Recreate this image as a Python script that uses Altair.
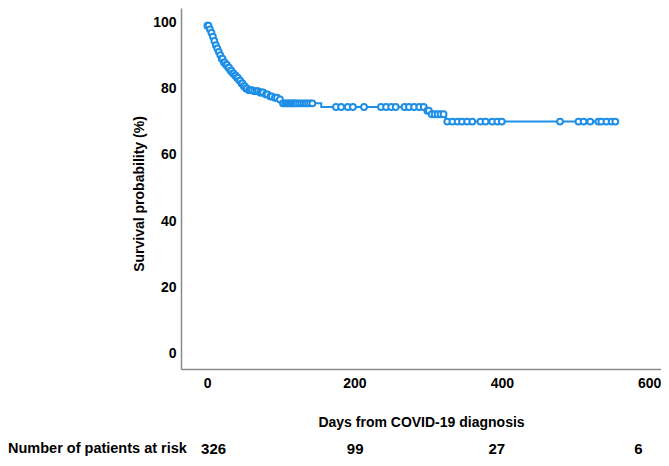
import altair as alt
import pandas as pd

BLUE = "#1e8fe6"
FONT = "Liberation Sans"

# Kaplan-Meier step knots (day, survival %)
step_days = [0, 0.3, 3, 5, 7, 9, 11, 13, 15, 17, 19, 22, 25, 28, 31, 34, 37, 40, 43, 46,
             49, 52, 56, 62, 70, 78, 84, 90, 97, 102, 155, 297, 302, 324, 555]
step_surv = [100, 99.1, 98.0, 97.0, 95.8, 94.5, 93.2, 92.2, 91.2, 90.2, 89.1, 88.0, 87.2, 86.4,
             85.5, 84.7, 84.0, 83.3, 82.5, 81.6, 80.8, 80.1, 79.6, 79.3, 78.9, 78.3, 77.7, 77.3,
             76.8, 75.6, 74.5, 73.4, 72.3, 70.1, 70.1]

# censored observations (days)
censor_days = [0.5, 2, 4, 6, 8, 10, 12, 14, 16, 18, 20, 21, 23, 24, 26, 27, 29, 30, 32, 33,
               35, 36, 38, 39, 41, 42, 44, 45, 47, 48, 50, 51, 53, 54, 57, 59, 61, 64, 67, 69,
               72, 74, 76, 80, 82, 86, 88, 92, 95, 99,
               103, 106, 108, 110, 112, 114, 116, 118, 120, 122, 125, 128, 131, 134, 137, 140, 143,
               175, 182, 191, 198, 213, 236, 243, 250, 256, 268, 274, 281, 288, 294,
               299, 301, 305, 309, 313, 317, 321,
               326, 333, 340, 346, 353, 360, 371, 378, 387, 394, 400, 479, 504, 511, 520, 531,
               535, 542, 549, 554]

at_risk_days = [0, 200, 400, 600]
at_risk_n = [326, 99, 27, 6]
x_ticks = [0, 200, 400, 600]
y_ticks = [0, 20, 40, 60, 80, 100]
x_title = "Days from COVID-19 diagnosis"
y_title = "Survival probability (%)"
risk_label = "Number of patients at risk"

steps = pd.DataFrame({"day": step_days, "surv": step_surv}).sort_values("day")
cens = pd.DataFrame({"day": [float(d) for d in censor_days]}).sort_values("day")
steps_f = steps.assign(day=steps["day"].astype(float))
cens = pd.merge_asof(cens, steps_f, on="day")

x_scale = alt.Scale(domain=[-35.3, 616], nice=False, zero=False)
y_scale = alt.Scale(domain=[-4.75, 104.45], nice=False, zero=False)

x_enc = alt.X("day:Q", scale=x_scale,
              axis=alt.Axis(values=x_ticks, title=x_title, labelPadding=7, titlePadding=25,
                            format="d"))
y_enc = alt.Y("surv:Q", scale=y_scale,
              axis=alt.Axis(values=y_ticks, title=y_title, labelPadding=5, titlePadding=6,
                            titleY=185.5, format="d"))

line = alt.Chart(steps).mark_line(interpolate="step-after", color=BLUE, strokeWidth=2).encode(
    x=x_enc, y=y_enc)

pts = alt.Chart(cens).mark_point(shape="circle", filled=True, fill="white", stroke=BLUE,
                                  strokeWidth=2, size=34, opacity=1).encode(
    x=alt.X("day:Q", scale=x_scale), y=alt.Y("surv:Q", scale=y_scale))

curve = alt.layer(line, pts)

risk = alt.Chart(pd.DataFrame({"day": at_risk_days, "n": at_risk_n})).mark_text(
    font=FONT, fontSize=15, fontWeight="bold", baseline="middle", align="center",
    color="black").encode(
    x=alt.X("day:Q", scale=alt.Scale(domain=[-46, 632], nice=False, zero=False), axis=None),
    y=alt.value(441),
    text="n:Q")

lab = alt.Chart(pd.DataFrame({"t": [risk_label]})).mark_text(
    font=FONT, fontSize=14.5, fontWeight="bold", baseline="middle", align="left",
    color="black").encode(
    x=alt.value(-173), y=alt.value(441), text="t:N")

chart = alt.layer(curve, risk, lab).resolve_scale(x="independent").properties(
    width=480, height=361, background="white", padding=0
).configure_view(stroke=None).configure_axis(
    domainColor="#8a8a8a", domainWidth=1.5, ticks=False, grid=False,
    labelFont=FONT, labelFontSize=14, labelFontWeight="bold", labelColor="black",
    titleFont=FONT, titleFontSize=14, titleFontWeight="bold", titleColor="black")

chart.save("out.html", embed_options={"renderer": "svg", "actions": False})
